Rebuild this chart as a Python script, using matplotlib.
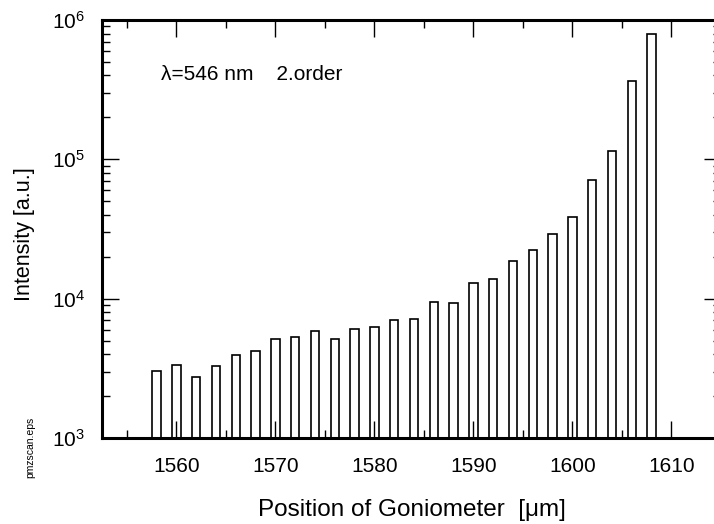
import matplotlib.pyplot as plt
import numpy as np
from matplotlib.ticker import LogLocator, MultipleLocator

plt.rcParams['font.family'] = ['Liberation Sans', 'DejaVu Sans']
plt.rcParams['mathtext.fontset'] = 'custom'
plt.rcParams['mathtext.rm'] = 'Liberation Sans'
plt.rcParams['mathtext.it'] = 'Liberation Sans:italic'

# goniometer positions [um] and measured intensity [a.u.]
position = np.arange(1558, 1609, 2)
intensity = [3040, 3340, 2740, 3300, 3960, 4200, 5130, 5280, 5850, 5130,
             6090, 6300, 7020, 7140, 9450, 9300, 12900, 13900, 18500, 22500,
             29100, 38800, 71500, 115000, 367000, 794000]

fig = plt.figure(figsize=(7.14, 5.24), dpi=100)
ax = fig.add_axes([0.1429, 0.1641, 0.8669, 0.7977])

ax.bar(position, intensity, width=0.85, color='white', edgecolor='black', linewidth=1.2)

ax.set_yscale('log')
ax.set_ylim(1e3, 1e6)
ax.set_xlim(1552.5, 1615)
ax.xaxis.set_major_locator(MultipleLocator(10))
ax.xaxis.set_minor_locator(MultipleLocator(5))
ax.yaxis.set_major_locator(LogLocator(base=10))
ax.yaxis.set_minor_locator(LogLocator(base=10, subs=np.arange(2, 10)))

ax.tick_params(which='both', direction='in', top=True, right=True, width=1, labelsize=15)
ax.tick_params(which='major', length=12)
ax.tick_params(which='minor', length=6)
ax.tick_params(axis='x', pad=14)
ax.tick_params(axis='y', pad=12)
for s in ax.spines.values():
    s.set_linewidth(2.2)

ax.set_xlabel('Position of Goniometer  [\u03bcm]', fontsize=17.5, labelpad=16)
ax.set_ylabel('Intensity [a.u.]', fontsize=15.5)
ax.yaxis.set_label_coords(-0.108, 0.488)
ax.text(1558.5, 4.07e5, '\u03bb=546 nm    2.order', fontsize=15, va='center')
fig.text(0.043, 0.147, 'pmzscan.eps', rotation=90, fontsize=7.5, ha='center', va='center')

plt.savefig('out.png', dpi=100)
